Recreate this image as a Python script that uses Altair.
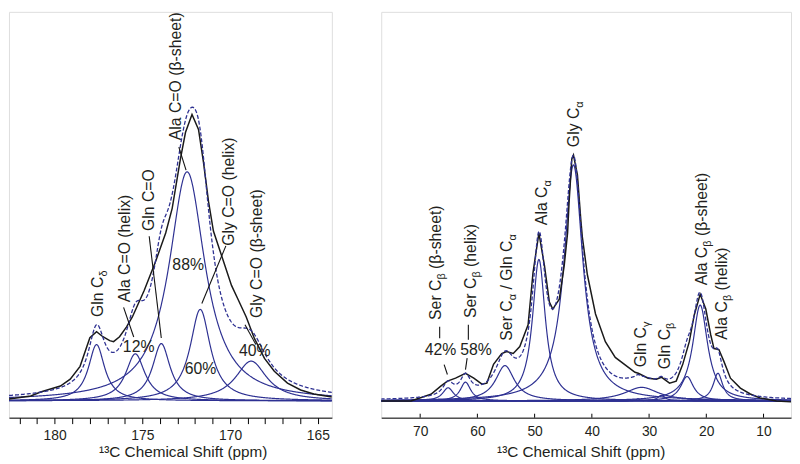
import numpy as np
import pandas as pd
import altair as alt

# ---------------- data ----------------
# Left panel (carbonyl region) fitted components: centre (ppm), height, half width (ppm)
L_comp = ["Gln Cd", "Ala CO helix", "Gln CO", "Ala CO sheet", "Gly CO helix", "Gly CO sheet"]
L_center = [177.61, 175.40, 173.92, 172.45, 171.70, 168.80]
L_height = [57.0, 47.7, 58.0, 232.0, 92.7, 40.3]
L_hwhm = [0.56, 0.66, 0.61, 1.25, 0.70, 1.08]

# Left panel experimental spectrum (solid black)
L_exp_ppm = [182.6, 181.36, 180.8, 179.67, 179.11, 178.55, 177.99, 177.61, 177.25, 176.86,
             176.64, 176.3, 175.9, 175.57, 174.89, 174.23, 173.67, 173.3, 172.83, 172.54,
             172.17, 171.8, 171.52, 171.23, 170.95, 169.92, 169.55, 169.08, 168.61, 168.04,
             167.48, 166.73, 165.98, 165.23, 164.2]
L_exp_h = [2, 5, 9, 15, 22, 35, 64, 70, 65, 61,
           60, 65, 75, 85, 112, 142, 170, 195, 245, 272,
           290, 275, 242, 202, 172, 117, 103, 85, 63, 43,
           30, 18, 11, 7, 4]

# Right panel (aliphatic region) fitted components
R_comp = ["Ser Cb sheet", "Ser Cb helix", "Ser Ca/Gln Ca", "Ala Ca", "Gly Ca", "Gln Cg",
          "Gln Cg2", "Gln Cb", "Ala Cb x", "Ala Cb sheet", "Ala Cb helix"]
R_center = [65.12, 62.08, 55.18, 49.25, 43.21, 31.30, 31.94, 27.85, 23.37, 21.07, 17.97]
R_height = [13.3, 19.0, 35.7, 143.3, 239.0, 13.7, 2.0, 5.5, 24.7, 97.0, 28.0]
R_hwhm = [1.15, 1.10, 2.00, 1.35, 2.00, 3.60, 0.40, 0.80, 1.35, 1.58, 1.00]

# Right panel experimental spectrum (solid black)
R_exp_ppm = [76.8, 71.62, 68.12, 66.4, 65.24, 63.81, 62.08, 60.63, 59.2, 58.34, 57.18, 55.75,
             54.89, 53.73, 52.59, 51.14, 50.28, 49.25, 48.28, 47.42, 46.83, 45.69, 44.83,
             44.24, 43.97, 43.5, 43.21, 42.52, 41.95, 41.66, 40.79, 39.36, 37.64, 35.91,
             33.61, 32.46, 31.89, 30.16, 28.72, 27.85, 26.42, 25.26, 24.12, 22.97, 22.11,
             21.07, 20.09, 19.23, 18.66, 17.8, 16.93, 15.78, 14.05, 12.32, 10.6, 7.74, 5.2]
R_exp_h = [0, 0, 6.7, 15, 20, 23, 28, 23, 17, 18, 37, 48,
           50, 48, 55, 77, 130, 170, 137, 100, 93, 103, 137,
           170, 202, 245, 249, 229, 185, 166, 128, 88, 60, 44,
           34, 29, 28, 23, 22, 24, 18, 20, 37, 60, 87,
           108, 93, 67, 53, 52, 40, 23, 13, 7, 3, 0, -1]

# Peak labels ("_" marks a subscript character)
L_lab_text = ["Gln C_δ", "Ala C=O (helix)", "Gln C=O", "Ala C=O (β-sheet)",
              "Gly C=O (helix)", "Gly C=O (β-sheet)"]
L_lab_ppm = [177.25, 175.68, 174.33, 172.81, 169.77, 168.20]
L_lab_h = [85, 100, 172, 264, 157, 84]

L_pct_text = ["12%", "88%", "60%", "40%"]
L_pct_ppm = [175.21, 172.39, 171.68, 168.59]
L_pct_h = [55, 138, 32, 50]

L_lead_ppm = [176.07, 174.61, 172.92, 170.24, 169.15]
L_lead_h = [94.7, 166.7, 257.0, 157.0, 77.0]
L_lead_ppm2 = [175.49, 173.92, 172.51, 171.61, 168.53]
L_lead_h2 = [64.7, 63.7, 233.7, 98.7, 57.0]

R_lab_text = ["Ser C_β (β-sheet)", "Ser C_β (helix)", "Ser C_α / Gln C_α", "Ala C_α", "Gly C_α",
              "Gln C_γ", "Gln C_β", "Ala C_β (β-sheet)", "Ala C_β (helix)"]
R_lab_ppm = [66.28, 60.24, 54.03, 47.81, 42.29, 30.56, 26.42, 19.86, 16.41]
R_lab_h = [82, 84, 61, 178, 257, 34, 32, 117, 62]

R_pct_text = ["42%", "58%"]
R_pct_ppm = [66.45, 60.24]
R_pct_h = [51, 51]

R_lead_ppm = [66.59, 65.81, 61.58, 61.79]
R_lead_h = [75.0, 36.7, 77.0, 43.3]
R_lead_ppm2 = [66.59, 65.24, 61.58, 62.08]
R_lead_h2 = [63.5, 26.7, 62.0, 31.7]

L_ticks = list(range(165, 183))
R_ticks = [10, 20, 30, 40, 50, 60, 70]

# ---------------- layout / style ----------------
NAVY = "#2e3192"
INK = "#231f20"
FONT = "Liberation Sans"
MAIN_FS = 16
SUB_FS = 11
SUB_OFF = 4  # px, subscript drop
H = 411
Y_DOM = [-17, 394]
L_DOM = [164.2, 182.6]
R_DOM = [5.2, 76.8]
L_W, R_W = 327, 415

WID = {" ": .278, "(": .333, ")": .333, "-": .333, "/": .278, "=": .584, "%": .889,
       "A": .667, "C": .722, "G": .778, "O": .778, "S": .667,
       "a": .556, "e": .556, "h": .556, "i": .222, "l": .222, "n": .556, "r": .333,
       "s": .5, "t": .278, "x": .5, "y": .5,
       "β": .575, "α": .578, "γ": .5, "δ": .556}


def tw(s, fs):
    return sum(WID.get(c, .556) for c in s) * fs


def lorentz(x, c, h, w):
    return h / (1.0 + ((x - c) / w) ** 2)


def comp_frames(centers, heights, widths, names, dom, step):
    x = np.arange(dom[0], dom[1] + 1e-9, step)
    rows = []
    total = np.zeros_like(x)
    for c, h, w, n in zip(centers, heights, widths, names):
        y = lorentz(x, c, h, w)
        total += y
        rows.append(pd.DataFrame({"ppm": x, "h": y, "comp": n}))
    return pd.concat(rows), pd.DataFrame({"ppm": x, "h": total})


def label_frames(texts, ppms, hs, pxppm):
    main, sub = [], []
    for t, p, h in zip(texts, ppms, hs):
        cur = h
        i = 0
        segs = []
        buf = ""
        while i < len(t):
            if t[i] == "_":
                if buf:
                    segs.append((buf, False))
                    buf = ""
                segs.append((t[i + 1], True))
                i += 2
            else:
                buf += t[i]
                i += 1
        if buf:
            segs.append((buf, False))
        for s, is_sub in segs:
            fs = SUB_FS if is_sub else MAIN_FS
            lead = len(s) - len(s.lstrip(" "))
            cur += tw(" " * lead, fs)
            s2 = s.lstrip(" ")
            if is_sub:
                sub.append({"ppm": p - SUB_OFF / pxppm, "h": cur, "t": s2})
            else:
                main.append({"ppm": p, "h": cur, "t": s2})
            cur += tw(s2, fs)
    return pd.DataFrame(main), pd.DataFrame(sub)


def panel(dom, width, centers, heights, widths, names, step, exp_ppm, exp_h,
          lab_text, lab_ppm, lab_h, pct_text, pct_ppm, pct_h,
          lead_ppm, lead_h, lead_ppm2, lead_h2, axis, inward_ticks=None):
    pxppm = width / (dom[1] - dom[0])
    xs = alt.Scale(domain=dom, reverse=True, nice=False, zero=False)
    ys = alt.Scale(domain=Y_DOM, nice=False, zero=False)

    def X(f="ppm"):
        return alt.X(f"{f}:Q", scale=xs, axis=axis)

    def Y(f="h"):
        return alt.Y(f"{f}:Q", scale=ys, axis=None)

    comps, total = comp_frames(centers, heights, widths, names, dom, step)
    exp = pd.DataFrame({"ppm": exp_ppm, "h": exp_h})
    main, sub = label_frames(lab_text, lab_ppm, lab_h, pxppm)
    pct = pd.DataFrame({"ppm": pct_ppm, "h": pct_h, "t": pct_text})
    lead = pd.DataFrame({"ppm": lead_ppm, "h": lead_h, "ppm2": lead_ppm2, "h2": lead_h2})

    layers = [
        alt.Chart(comps).mark_line(color=NAVY, strokeWidth=1.2, clip=True).encode(
            x=X(), y=Y(), detail="comp:N", order="ppm:Q"),
        alt.Chart(exp).mark_line(color="#1a1a1a", strokeWidth=1.5, clip=True).encode(
            x=X(), y=Y(), order="ppm:Q"),
        alt.Chart(total).mark_line(color=NAVY, strokeWidth=1.3, strokeDash=[4, 2], clip=True).encode(
            x=X(), y=Y(), order="ppm:Q"),
        alt.Chart(lead).mark_rule(color="#111111", strokeWidth=1.1).encode(
            x=X(), x2="ppm2:Q", y=Y(), y2="h2:Q"),
        alt.Chart(main).mark_text(angle=270, align="left", baseline="alphabetic",
                                  font=FONT, fontSize=MAIN_FS, color=INK).encode(
            x=X(), y=Y(), text="t:N"),
        alt.Chart(sub).mark_text(angle=270, align="left", baseline="alphabetic",
                                 font=FONT, fontSize=SUB_FS, color=INK).encode(
            x=X(), y=Y(), text="t:N"),
        alt.Chart(pct).mark_text(align="center", baseline="middle",
                                 font=FONT, fontSize=MAIN_FS, color=INK).encode(
            x=X(), y=Y(), text="t:N"),
    ]
    if inward_ticks is not None:
        tk = pd.DataFrame({"ppm": inward_ticks})
        layers.append(alt.Chart(tk).mark_rule(color="black", strokeWidth=1).encode(
            x=X(), y=alt.value(H), y2=alt.value(H - 4)))
    return alt.layer(*layers).properties(width=width, height=H)


TITLE = "¹³C Chemical Shift (ppm)"

left_axis = alt.Axis(values=L_ticks, labelExpr="datum.value % 5 == 0 ? datum.label : ''",
                     tickSize=6, tickColor="black", domainColor="black", domainWidth=1,
                     labelFont=FONT, labelFontSize=14, labelColor=INK, labelPadding=5,
                     labelOverlap=False, labelFlush=False, grid=False,
                     title=TITLE, titleFont=FONT, titleFontSize=15.5, titleFontWeight="normal",
                     titleColor=INK, titlePadding=2, titleX=176)

right_axis = alt.Axis(values=R_ticks, tickSize=0, domainColor="black", domainWidth=1,
                      labelFont=FONT, labelFontSize=14, labelColor=INK, labelPadding=7,
                      labelOverlap=False, labelFlush=False, grid=False,
                      title=TITLE, titleFont=FONT, titleFontSize=15.5, titleFontWeight="normal",
                      titleColor=INK, titlePadding=6, titleX=202)

left = panel(L_DOM, L_W, L_center, L_height, L_hwhm, L_comp, 0.02, L_exp_ppm, L_exp_h,
             L_lab_text, L_lab_ppm, L_lab_h, L_pct_text, L_pct_ppm, L_pct_h,
             L_lead_ppm, L_lead_h, L_lead_ppm2, L_lead_h2, left_axis)

right = panel(R_DOM, R_W, R_center, R_height, R_hwhm, R_comp, 0.05, R_exp_ppm, R_exp_h,
              R_lab_text, R_lab_ppm, R_lab_h, R_pct_text, R_pct_ppm, R_pct_h,
              R_lead_ppm, R_lead_h, R_lead_ppm2, R_lead_h2, right_axis, inward_ticks=R_ticks)

chart = alt.hconcat(left, right, spacing=48).properties(
    padding={"left": 0, "top": 0, "right": 0, "bottom": 0}
).configure_view(strokeWidth=0).configure(background="white")

chart.save("out.html", embed_options={"renderer": "svg", "actions": False})
